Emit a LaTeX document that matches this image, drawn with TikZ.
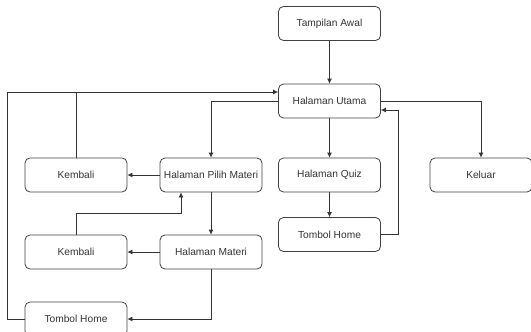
\documentclass[tikz,border=0pt]{standalone}
\usepackage{fontspec}
\setmainfont{Liberation Sans}
\usepackage{tikz}
\usetikzlibrary{arrows.meta,calc}

\begin{document}
\begin{tikzpicture}[x=1pt,y=-1pt,
    box/.style={draw=black!75, rounded corners=5pt, line width=0.8pt,
        minimum width=102pt, minimum height=34pt, inner sep=0pt,
        text=black!80, font=\fontsize{10.2}{12}\selectfont},
    link/.style={draw=black!80, line width=0.8pt},
    arr/.style={link, -{Latex[length=5pt,width=5pt]}}]
    \useasboundingbox (0,0) rectangle (531,332);

    \node[box] (awal)     at (329.5,23.5) {Tampilan Awal};
    \node[box] (utama)    at (329.5,101)  {Halaman Utama};
    \node[box] (kembali1) at (76,175)     {Kembali};
    \node[box] (pilih)    at (211,175)    {Halaman Pilih Materi};
    \node[box] (quiz)     at (329.5,175)  {Halaman Quiz};
    \node[box] (keluar)   at (481,175)    {Keluar};
    \node[box] (homeR)    at (329.5,234.5){Tombol Home};
    \node[box] (kembali2) at (76,252)     {Kembali};
    \node[box] (materi)   at (211,252)    {Halaman Materi};
    \node[box] (homeL)    at (76,319)     {Tombol Home};

    \coordinate (inL) at ([yshift=9pt]utama.west);
    \coordinate (inR) at ([yshift=-9pt]utama.east);

    \draw[arr] (awal) -- (utama);
    \draw[arr] (utama.west) -| (pilih.north);
    \draw[arr] (utama.east) -| (keluar.north);
    \draw[arr] (utama) -- (quiz);
    \draw[arr] (quiz) -- (homeR);
    \draw[arr] (homeR.east) -- ++(17,0) |- (inR);
    \draw[arr] (pilih) -- (kembali1);
    \draw[arr] (pilih) -- (materi);
    \draw[arr] (materi) -- (kembali2);
    \draw[arr] (kembali2.north) -- ++(0,-21) -| ([xshift=-30pt]pilih.south);
    \draw[arr] (materi.south) |- (homeL.east);
    \draw[arr] (homeL.west) -- ++(-17,0) |- (inL);
    \draw[link] (kembali1.north) -- (kembali1.north |- inL);

\end{tikzpicture}
\end{document}
